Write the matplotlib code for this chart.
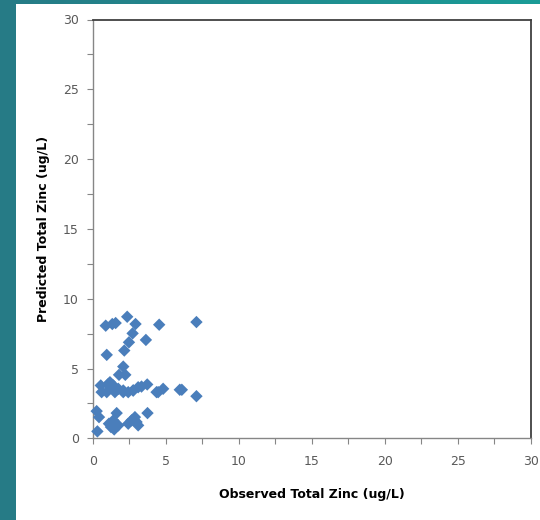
import matplotlib
matplotlib.use("Agg")
import matplotlib.pyplot as plt
import numpy as np
from matplotlib.patches import Rectangle
from matplotlib.colors import LinearSegmentedColormap

# observed vs predicted total zinc (ug/L)
observed = [2.36, 0.89, 1.34, 1.57, 2.93, 4.55, 7.10, 2.73, 3.64, 2.48,
            2.16, 0.96, 2.09, 1.80, 2.23, 0.55, 1.18, 1.41, 3.73, 4.82,
            4.48, 5.96, 7.10, 0.61, 0.96, 1.52, 2.09, 2.43, 2.77, 3.11,
            3.34, 1.07, 1.75, 2.09, 2.77, 4.37, 0.32, 0.27, 0.43, 1.64,
            1.11, 1.41, 1.75, 1.25, 1.47, 2.66, 2.89, 2.43, 3.11, 3.00,
            3.75, 6.10, 1.20]
predicted = [8.71, 8.07, 8.19, 8.26, 8.19, 8.14, 8.33, 7.52, 7.05, 6.88,
             6.29, 5.98, 5.14, 4.55, 4.55, 3.79, 4.02, 3.79, 3.86, 3.55,
             3.31, 3.48, 3.02, 3.31, 3.31, 3.31, 3.31, 3.31, 3.43, 3.66,
             3.71, 3.90, 3.55, 3.43, 3.43, 3.31, 0.50, 1.95, 1.52, 1.81,
             1.05, 1.29, 0.93, 0.81, 0.64, 1.29, 1.52, 1.05, 0.93, 1.17,
             1.81, 3.48, 3.60]

xticks = [0, 5, 10, 15, 20, 25, 30]
yticks = [0, 5, 10, 15, 20, 25, 30]

BLUE = "#4a7ebb"
TICKC = "#595959"

fig = plt.figure(figsize=(5.4, 5.2), dpi=100)
fig.patch.set_facecolor("white")

# teal frame: left strip and gradient top strip
fig.patches.append(Rectangle((0, 0), 16 / 540, 1, transform=fig.transFigure,
                             fc="#267b86", ec="none", zorder=0))
top = fig.add_axes([0, 1 - 4 / 520, 1, 4 / 520])
cmap = LinearSegmentedColormap.from_list("teal", ["#267b86", "#1a9c97"])
top.imshow(np.linspace(0, 1, 256)[None, :], aspect="auto", cmap=cmap)
top.axis("off")

ax = fig.add_axes([0.1717, 0.157, 0.8116, 0.8055])
ax.scatter(observed, predicted, marker="D", s=40, color=BLUE, edgecolors="none",
           zorder=3, clip_on=False)

ax.set_xlim(0, 30)
ax.set_ylim(0, 30)
ax.set_xticks(xticks)
ax.set_yticks(yticks)
ax.set_xticks(np.arange(0, 30.1, 2.5), minor=True)
ax.set_yticks(np.arange(0, 30.1, 2.5), minor=True)
ax.tick_params(which="both", direction="out", length=4, width=0.8, color="#868686",
               labelcolor=TICKC, labelsize=9, pad=6)
ax.tick_params(axis="x", pad=8)

for s in ["left", "bottom"]:
    ax.spines[s].set_color("#868686")
    ax.spines[s].set_linewidth(1.0)
for s in ["top", "right"]:
    ax.spines[s].set_color("#404040")
    ax.spines[s].set_linewidth(1.3)

ax.set_xlabel("Observed Total Zinc (ug/L)", fontsize=9, fontweight="bold",
              color="black")
ax.set_ylabel("Predicted Total Zinc (ug/L)", fontsize=9, fontweight="bold",
              color="black")
ax.xaxis.set_label_coords(0.5, -0.118)
ax.yaxis.set_label_coords(-0.098, 0.5)

fig.savefig("out.png", dpi=100)
